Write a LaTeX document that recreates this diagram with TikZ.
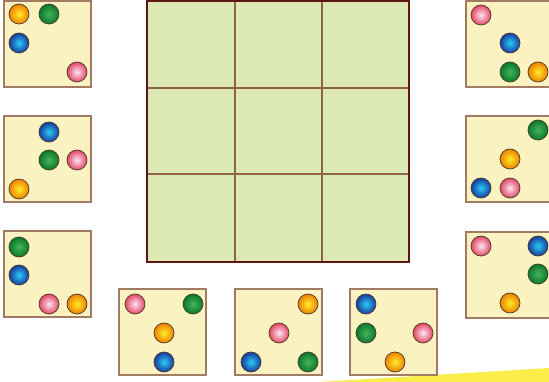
\documentclass[tikz,border=0pt]{standalone}
\usetikzlibrary{calc}
\definecolor{cardfill}{HTML}{FAF3C1}
\definecolor{cardedge}{HTML}{A07A62}
\definecolor{gridfill}{HTML}{DDE9B5}
\definecolor{gridouter}{HTML}{5C1812}
\definecolor{gridinner}{HTML}{8E6448}
\definecolor{ballrim}{HTML}{4A3A2A}
\definecolor{streak}{HTML}{FBEE4A}
\tikzset{
  card/.style={fill=cardfill, draw=cardedge, line width=1.2pt},
  ballbase/.style={draw=ballrim, line width=0.7pt, shading=radial},
  ballO/.style={ballbase, inner color={rgb,255:red,255;green,236;blue,40}, outer color={rgb,255:red,238;green,128;blue,0}},
  ballG/.style={ballbase, inner color={rgb,255:red,70;green,180;blue,90}, outer color={rgb,255:red,10;green,120;blue,45}},
  ballB/.style={ballbase, inner color={rgb,255:red,40;green,205;blue,245}, outer color={rgb,255:red,25;green,60;blue,160}},
  ballP/.style={ballbase, inner color={rgb,255:red,250;green,230;blue,245}, outer color={rgb,255:red,228;green,70;blue,100}},
}
\newcommand\myball[3]{\path[ball#3] (#1,#2) circle (10);}
\newcommand\mycard[2]{\path[card] (#1,#2) rectangle ++(87,86);}
\begin{document}
\begin{tikzpicture}[x=1pt,y=-1pt]
\useasboundingbox (0,0) rectangle (549,382);
\fill[white] (0,0) rectangle (549,382);
% yellow streak
\fill[streak] (318,382) -- (549,368) -- (549,382) -- cycle;
% main grid
\fill[gridfill] (147,1) rectangle (409,262);
\draw[gridinner, line width=1.2pt] (235,1) -- (235,262) (322,1) -- (322,262)
  (147,88) -- (409,88) (147,174) -- (409,174);
\draw[gridouter, line width=2.6pt] (147,1) rectangle (409,262);
% left column
\mycard{4}{1}
\myball{19}{14}{O}\myball{49}{14}{G}\myball{19}{43}{B}\myball{77}{72}{P}
\mycard{4}{116}
\myball{49}{132}{B}\myball{49}{160}{G}\myball{77}{160}{P}\myball{19}{189}{O}
\mycard{4}{231}
\myball{19}{247}{G}\myball{19}{275}{B}\myball{49}{304}{P}\myball{77}{304}{O}
% bottom row
\mycard{119}{289}
\myball{135}{304}{P}\myball{193}{304}{G}\myball{164}{333}{O}\myball{164}{362}{B}
\mycard{235}{289}
\myball{308}{304}{O}\myball{279}{333}{P}\myball{251}{362}{B}\myball{308}{362}{G}
\mycard{350}{289}
\myball{366}{304}{B}\myball{366}{333}{G}\myball{423}{333}{P}\myball{395}{362}{O}
% right column
\mycard{466}{1}
\myball{481}{15}{P}\myball{510}{43}{B}\myball{510}{72}{G}\myball{538}{72}{O}
\mycard{466}{116}
\myball{538}{130}{G}\myball{510}{159}{O}\myball{481}{188}{B}\myball{510}{188}{P}
\mycard{466}{232}
\myball{481}{246}{P}\myball{538}{246}{B}\myball{538}{274}{G}\myball{510}{303}{O}
\end{tikzpicture}
\end{document}
